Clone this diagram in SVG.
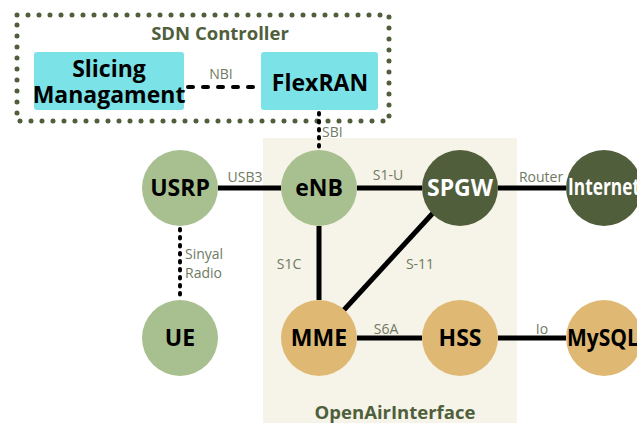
<svg xmlns="http://www.w3.org/2000/svg" width="637" height="423" viewBox="0 0 637 423">
<style>
text{font-family:"Open Sans","Noto Sans","Liberation Sans",sans-serif;text-anchor:middle}
.grp{font-weight:bold;font-size:18.5px;fill:#4f5f3c}
.lbl{font-size:14px;fill:#6e7a62}
.lblL{font-size:14px;fill:#6e7a62;text-anchor:start}
.node{font-weight:bold;font-size:23px;fill:#000}
.w{fill:#fff}
.lg{fill:#a8bf8f}
.dg{fill:#505e3c}
.or{fill:#dfb973}
.box{fill:#7be3e8}
.solid{stroke:#000;stroke-width:5;fill:none}
.dots{stroke:#000;stroke-width:4;fill:none;stroke-linecap:round;stroke-dasharray:1.5 6.5}
.dash{stroke:#000;stroke-width:4;fill:none;stroke-linecap:round;stroke-dasharray:5 10}
</style>
<rect x="263" y="138" width="254" height="290" fill="#f6f3e8"/>
<text class="grp" x="395" y="419">OpenAirInterface</text>
<rect x="17" y="15" width="372" height="106" fill="none" stroke="#505e3c" stroke-width="5" stroke-linecap="round" stroke-dasharray="0 11"/>
<text class="grp" x="220" y="40">SDN Controller</text>
<g id="connectors">
<line class="dash" x1="188" y1="87" x2="259" y2="87"/>
<text class="lbl" x="221" y="79">NBI</text>
<line class="dots" x1="319" y1="113" x2="319" y2="149"/>
<text class="lblL" x="322" y="137">SBI</text>
<line class="solid" x1="218" y1="188" x2="281" y2="188"/>
<text class="lbl" x="245" y="182">USB3</text>
<line class="solid" x1="357" y1="188" x2="422" y2="188"/>
<text class="lbl" x="388" y="180">S1-U</text>
<line class="solid" x1="498" y1="188" x2="566" y2="188"/>
<text class="lbl" x="541" y="182">Router</text>
<line class="solid" x1="319" y1="226" x2="319" y2="300"/>
<text class="lbl" x="289" y="269">S1C</text>
<line class="solid" x1="343" y1="311" x2="433" y2="213"/>
<text class="lbl" x="420" y="269">S-11</text>
<line class="solid" x1="357" y1="338" x2="422" y2="338"/>
<text class="lbl" x="386" y="334">S6A</text>
<line class="solid" x1="498" y1="338" x2="566" y2="338"/>
<text class="lbl" x="542" y="334">Io</text>
<line class="dots" x1="180" y1="229" x2="180" y2="299"/>
<text class="lblL" x="185" y="259">Sinyal</text>
<text class="lblL" x="185" y="278">Radio</text>
</g>
<g id="slicing"><rect class="box" x="34" y="52" width="150" height="58" rx="3"/><text class="node" x="109" y="77" font-size="20">Slicing</text><text class="node" x="109" y="103" font-size="19">Managament</text></g>
<g id="flexran"><rect class="box" x="261" y="52" width="117" height="58" rx="3"/><text class="node" x="320" y="91" font-size="26">FlexRAN</text></g>
<g id="usrp"><circle class="lg" cx="180" cy="188" r="38"/><text class="node" x="180" y="196">USRP</text></g>
<g id="enb"><circle class="lg" cx="319" cy="188" r="38"/><text class="node" x="319" y="196">eNB</text></g>
<g id="spgw"><circle class="dg" cx="460" cy="188" r="38"/><text class="node w" x="460" y="196">SPGW</text></g>
<g id="internet"><circle class="dg" cx="604" cy="188" r="38"/><text class="node w" x="568" y="195" font-size="19" style="text-anchor:start" textLength="72" lengthAdjust="spacingAndGlyphs">Internet</text></g>
<g id="ue"><circle class="lg" cx="180" cy="338" r="38"/><text class="node" x="180" y="346">UE</text></g>
<g id="mme"><circle class="or" cx="319" cy="338" r="38"/><text class="node" x="319" y="346">MME</text></g>
<g id="hss"><circle class="or" cx="460" cy="338" r="38"/><text class="node" x="460" y="346">HSS</text></g>
<g id="mysql"><circle class="or" cx="604" cy="338" r="38"/><text class="node" x="567" y="346" font-size="21" style="text-anchor:start" textLength="72" lengthAdjust="spacingAndGlyphs">MySQL</text></g>
</svg>
